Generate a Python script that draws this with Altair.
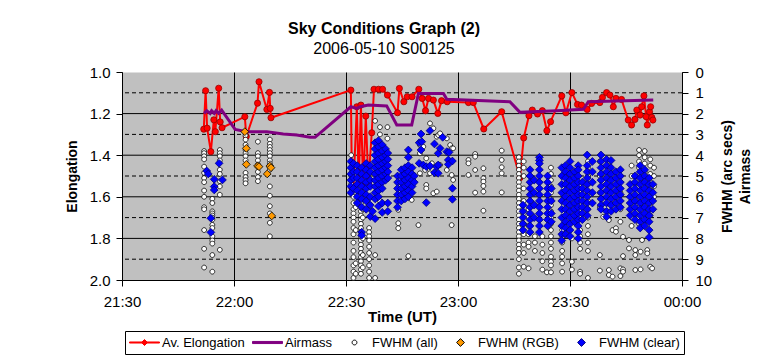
import altair as alt
import pandas as pd

F = "Liberation Sans"
TITLE = "Sky Conditions Graph (2)"
SUBTITLE = "2006-05-10 S00125"
TIME_TICKS = [0, 30, 60, 90, 120, 150]          # minutes after 21:30
TIME_LABELS = ["21:30", "22:00", "22:30", "23:00", "23:30", "00:00"]
ELONG_TICKS = [1.0, 1.2, 1.4, 1.6, 1.8, 2.0]
RIGHT_TICKS = list(range(11))
SOLID_GRID = [1.2, 1.4, 1.6, 1.8]
DASH_GRID = [1.1, 1.3, 1.5, 1.7, 1.9]
SERIES = ["Av. Elongation", "Airmass", "FWHM (all)", "FWHM (RGB)", "FWHM (clear)"]

# Av. Elongation (time in minutes after 21:30, value)
ELONG_T = [21.9, 22.4, 22.8, 23.8, 24.6, 25.0, 25.9, 26.3, 26.8, 32.9, 33.3, 36.3, 36.7, 38.8, 39.5, 39.7, 39.9,
           61.3, 61.6, 62.0, 62.9, 63.4, 64.0, 64.6, 65.3, 66.0, 66.9, 67.5, 68.7, 69.8, 71.1, 73.8, 74.3, 75.5,
           76.4, 77.7, 79.5, 80.4, 81.3, 82.1, 83.4, 84.6, 85.6, 87.1, 92.8, 94.1, 96.9, 101.7, 106.6, 107.6,
           109.0, 109.9, 111.3, 112.6, 113.8, 114.8, 117.8, 118.9, 120.5, 122.0, 123.1, 124.6, 125.8, 128.0,
           128.7, 129.8, 130.7, 131.6, 132.3, 133.8, 135.6, 136.5, 137.4, 137.9, 138.8, 139.2, 139.8, 140.4,
           140.7, 141.3, 141.6, 141.9, 142.2]
ELONG_V = [1.275, 1.09, 1.27, 1.383, 1.23, 1.287, 1.078, 1.24, 1.268, 1.215, 1.31, 1.15, 1.047, 1.18, 1.098, 1.175, 1.22,
           1.087, 1.559, 1.551, 1.167, 1.535, 1.159, 1.551, 1.212, 1.535, 1.292, 1.083, 1.083, 1.083, 1.111, 1.196, 1.079, 1.143,
           1.119, 1.119, 1.083, 1.127, 1.186, 1.127, 1.135, 1.199, 1.138, 1.143, 1.147, 1.147, 1.274, 1.191, 1.508, 1.317,
           1.21, 1.183, 1.202, 1.186, 1.282, 1.239, 1.115, 1.196, 1.099, 1.156, 1.159, 1.18, 1.151, 1.147,
           1.122, 1.099, 1.111, 1.167, 1.127, 1.132, 1.231, 1.255, 1.228, 1.183, 1.207, 1.167, 1.115, 1.215,
           1.255, 1.191, 1.167, 1.218, 1.231]

# Airmass
AIR_T = [22.0, 22.7, 23.6, 24.0, 24.7, 25.2, 25.9, 26.7, 30.3, 33.4, 38.8, 43.2, 46.8, 50.4, 51.7, 61.3, 62.9, 63.8,
         66.0, 70.9, 73.6, 77.6, 79.4, 86.1, 87.0, 103.9, 106.6, 116.4, 123.6, 124.9, 142.3]
AIR_V = [1.99, 1.86, 1.99, 1.86, 1.99, 1.86, 1.99, 1.83, 2.76, 2.87, 2.87, 2.98, 3.03, 3.14, 3.14, 1.67, 1.75, 1.67,
         1.59, 1.63, 2.55, 2.55, 1.03, 1.03, 1.31, 1.43, 1.94, 1.86, 1.79, 1.43, 1.35]

# FWHM (all): (time, [values])
ALL_COLS = [
    (22.0, [3.8, 3.9, 4.05, 4.2, 4.55, 4.85, 5.1, 5.3, 5.7, 6.0, 6.5, 6.6, 7.6, 8.5, 9.4]),
    (24.2, [6.1, 6.3, 6.7, 6.8, 6.9, 7.0, 7.1, 7.35, 7.5, 7.9, 8.1, 8.25, 8.8, 9.6]),
    (26.2, [3.75, 3.9, 4.05, 4.25, 4.7, 4.9, 5.25, 5.5, 5.9, 8.55]),
    (33.1, [3.05, 3.25, 3.5, 3.75, 3.9, 4.05, 4.25, 4.85, 5.05, 5.2, 5.35]),
    (36.4, [3.35, 3.9, 4.05, 4.25, 4.45, 4.8, 5.05, 5.25]),
    (39.6, [3.25, 3.45, 3.6, 3.75, 3.9, 4.05, 4.25, 4.4, 4.7, 5.5, 5.95, 6.45, 6.8, 7.25, 7.9]),
    (61.4, [4.0, 4.3, 4.6, 5.0, 5.4, 5.8]),
    (62.0, [6.0, 6.3, 6.6, 6.8, 7.0, 7.2, 7.5, 7.8, 8.2, 8.6, 8.9, 9.3, 9.6, 9.9]),
    (62.6, [6.5, 7.6, 9.2, 9.7]),
    (64.0, [5.9, 6.1, 6.3, 6.5, 6.7, 6.9, 7.1, 7.3, 7.5, 7.7, 7.9, 8.1, 8.3, 8.5, 8.7, 8.9, 9.1, 9.3, 9.5, 9.7]),
    (64.5, [6.6, 7.0, 8.0, 8.8, 9.4]),
    (66.2, [6.0, 6.4, 7.5, 7.7, 7.9, 8.1, 8.4, 8.7, 9.0, 9.3, 9.6, 9.9]),
    (67.8, [2.35, 8.8, 9.9]),
    (69.1, [2.65, 3.0, 6.2]),
    (71.1, [2.65, 3.2]),
    (74.0, [6.63, 7.27, 7.51]),
    (75.8, [5.6]), (76.7, [8.85]), (77.1, [5.67]), (77.6, [6.15]), (79.4, [7.36]),
    (79.8, [3.51, 3.91, 4.87]), (80.7, [3.59]), (81.2, [4.71]), (81.5, [4.15, 5.43, 5.6]),
    (82.5, [2.47, 4.87]), (83.0, [4.39]), (83.4, [2.71, 5.83]), (84.3, [3.11, 5.75]), (84.7, [3.03]),
    (85.2, [2.95, 4.47]), (87.0, [3.19, 4.71]), (87.9, [3.51]), (88.3, [3.67, 4.95, 7.36]), (88.7, [3.67, 5.19]),
    (92.8, [4.23, 4.39, 4.95]),
    (94.6, [3.94, 4.07, 4.71, 5.8]),
    (96.8, [4.63, 5.11, 5.27, 5.48, 5.75, 6.67]),
    (101.7, [3.78, 4.23, 4.58, 4.87, 5.79]),
    (106.3, [4.1, 4.3, 4.5, 4.7, 4.9, 5.1, 5.3, 5.5, 5.7, 5.9, 6.1, 6.3, 6.5, 6.7, 6.9, 7.1, 7.3, 7.5, 7.7, 7.9,
             8.1, 8.3, 8.5, 8.7, 9.0, 9.4, 9.7]),
    (107.6, [4.3, 4.6, 5.0, 5.6, 6.2, 6.8, 7.3, 7.8, 8.3, 8.7, 9.36]),
    (108.9, [6.6, 7.0, 7.4, 7.8, 8.2, 8.4, 9.44]),
    (110.6, [7.9, 8.2, 8.6]),
    (112.6, [7.9, 8.3, 8.7, 9.1, 9.5]),
    (113.8, [9.63]),
    (114.9, [4.6, 4.9, 5.2, 5.5, 5.8, 6.1, 6.4, 6.7, 7.0, 7.3, 7.6, 7.9, 8.2, 8.5, 8.88, 9.12, 9.3, 9.63]),
    (117.9, [7.6, 7.9, 8.2, 8.6, 8.88, 9.2, 9.6]),
    (120.5, [8.0, 9.12, 9.5]),
    (122.7, [7.6, 7.9, 8.2, 8.5, 9.6, 9.7]),
    (124.8, [4.3, 4.6, 5.0, 5.4, 5.8, 6.2, 6.6, 7.0, 7.4, 7.8, 8.2, 8.6, 9.9]),
    (128.0, [4.3, 5.0, 5.8, 6.5, 8.8, 9.55]),
    (128.9, [6.96]),
    (130.4, [4.5, 5.3, 6.2, 7.12, 9.52, 9.76]),
    (131.4, [7.6, 9.84]),
    (132.3, [7.51, 7.68]),
    (133.5, [5.0, 5.8, 6.6, 7.2, 9.44, 9.81]),
    (134.2, [7.92, 8.85, 9.49, 9.6]),
    (135.8, [8.08, 8.48]),
    (136.5, [4.5, 5.0, 5.5, 6.0, 6.5, 7.0, 7.4]),
    (137.5, [8.56, 8.8, 9.52]),
    (138.5, [3.75, 4.0, 4.3, 4.6, 5.0, 5.5, 6.0, 6.5, 7.0, 7.3]),
    (138.9, [8.64, 9.49]),
    (139.3, [8.08]),
    (140.0, [3.8, 4.1, 4.4, 4.8, 5.2, 5.6, 6.0, 6.4, 6.8, 7.2]),
    (140.7, [8.56, 8.72]),
    (141.5, [4.2, 4.5, 4.9, 5.3, 5.7, 6.1, 6.5, 6.9, 9.36]),
    (142.0, [9.44]),
    (142.5, [4.6, 5.0, 5.5, 6.0]),
]

# FWHM (RGB)
RGB_T = [32.9, 33.3, 33.3, 36.3, 36.7, 38.9, 39.6, 39.9, 40.1]
RGB_V = [2.87, 3.67, 4.44, 4.52, 4.55, 4.9, 4.52, 4.6, 6.92]

# FWHM (clear): (time, [values])
CLEAR_COLS = [
    (22.7, [4.76]), (23.1, [4.9]), (23.8, [7.03, 7.71]), (24.7, [5.16, 5.51, 5.67]), (26.0, [4.39]), (26.9, [5.19]),
    (61.3, [4.3, 4.6, 4.9, 5.2, 5.5, 5.8]), (62.0, [4.4, 4.8, 5.1, 5.6]),
    (63.0, [4.5, 4.8, 5.1, 5.4, 5.7, 6.0, 6.3]), (64.2, [4.6, 4.9, 5.2, 5.5, 5.8, 6.1, 6.5, 7.7, 7.85]),
    (65.4, [4.4, 4.7, 5.0, 5.3, 5.6, 5.9, 6.2, 6.6]), (66.5, [4.5, 4.8, 5.2, 5.5, 6.0, 6.4, 6.95]), (67.1, [6.7]),
    (67.8, [3.4, 3.7, 4.0, 4.3, 4.6, 4.9, 5.2, 5.5, 5.8, 6.1, 7.05]),
    (68.7, [3.3, 3.6, 3.9, 4.2, 4.5, 4.8, 5.1, 5.4, 5.7, 6.0, 6.45]),
    (69.7, [3.5, 3.8, 4.1, 4.4, 4.7, 5.0, 5.3, 5.6, 6.3, 6.75]),
    (70.6, [3.7, 4.0, 4.3, 4.6, 4.9, 5.2]), (71.2, [3.9, 4.2, 4.5, 4.8, 5.1, 6.3, 6.7]),
    (73.8, [5.0, 5.3, 5.6, 5.9, 6.2, 6.5]), (74.8, [4.7, 5.0, 5.3, 5.6, 5.9, 6.2]),
    (75.8, [4.6, 4.9, 5.2, 5.5, 5.8, 6.1]), (76.7, [3.75, 4.1, 4.5, 4.8, 5.1, 5.4, 5.7, 6.0]),
    (77.7, [4.6, 4.9, 5.2, 5.5, 5.8]), (78.3, [5.0, 5.3]),
    (79.6, [3.4, 4.39]), (80.1, [2.98, 3.75]), (80.3, [3.35]), (80.7, [4.47]), (81.5, [4.55, 6.28]),
    (82.5, [2.82, 4.52]), (83.7, [3.46, 4.84]), (84.3, [4.55]), (84.7, [3.91, 4.47, 4.87]), (85.2, [3.67]),
    (85.9, [3.14]), (87.0, [3.83]), (87.4, [4.23, 4.44]), (87.6, [3.86]), (88.5, [4.28, 5.59, 6.12]),
    (107.4, [6.4, 6.7, 7.0, 7.3, 7.6]),
    (109.3, [4.7, 5.0, 5.3, 5.6, 5.9, 6.2, 6.5, 6.8, 7.1, 7.4, 7.7]),
    (110.4, [5.2, 5.8, 6.4, 7.0]),
    (111.8, [4.1, 4.25, 4.4, 4.7, 5.0, 5.3, 5.6, 5.9, 6.2, 6.5, 6.8, 7.1, 7.4, 7.7]),
    (114.0, [5.0, 5.3, 5.6, 5.9, 6.2, 6.5, 6.8, 7.1, 7.4]),
    (115.0, [5.6, 6.2, 6.8, 7.2]),
    (117.8, [4.6, 5.0, 5.4, 5.8, 6.2, 6.6, 7.0, 7.4, 7.8, 8.1]),
    (118.8, [4.5, 4.8, 5.1, 5.4, 5.7, 6.0, 6.3, 6.6, 6.9, 7.2, 7.5, 7.8]),
    (120.0, [4.3, 4.6, 4.9, 5.2, 5.5, 5.8, 6.1, 6.4, 6.7, 7.0, 7.3, 7.6, 7.9]),
    (121.2, [4.8, 5.1, 5.4, 5.7, 6.0, 6.3, 6.6, 6.9, 7.2]),
    (122.2, [4.5, 4.7, 5.0, 5.3, 5.6, 5.9, 6.2, 6.5, 6.8, 7.1, 7.4, 7.7, 8.0]),
    (123.3, [5.3, 5.6, 5.9, 6.2, 6.5, 6.8, 7.1]),
    (124.6, [3.99, 4.5, 4.8, 5.1, 5.4, 5.7, 6.0, 6.3, 6.6, 6.9]),
    (126.0, [4.3, 4.8, 5.3, 5.8, 6.3]),
    (128.3, [3.99, 4.3, 4.6, 4.9, 5.2, 5.5, 5.8, 6.1, 6.4, 6.6]),
    (129.8, [4.2, 4.5, 4.8, 5.1, 5.4, 5.7, 6.0, 6.3, 6.7, 6.96]),
    (131.0, [4.25, 4.6, 4.9, 5.2, 5.5, 5.8, 6.1, 6.4, 6.7]),
    (132.3, [4.8, 5.1, 5.4, 5.7, 6.0, 6.3, 6.6]),
    (133.5, [4.7, 5.0, 5.3, 5.6, 5.9, 6.2, 6.5]),
    (136.1, [5.4, 5.7, 6.0, 6.3, 6.6, 6.9]),
    (137.4, [5.0, 5.3, 5.6, 5.9, 6.2, 6.5, 6.8, 7.1]),
    (138.8, [4.5, 4.8, 5.1, 5.4, 5.7, 6.0, 6.3, 6.6, 6.9, 7.2, 7.5]),
    (140.0, [4.7, 5.0, 5.3, 5.6, 5.9, 6.2, 6.5, 6.8, 7.1, 7.4]),
    (141.2, [5.1, 5.4, 5.7, 6.0, 6.3, 6.6, 6.9, 7.2, 7.6, 7.95]),
    (142.2, [5.4, 5.8, 6.2, 6.6]),
]

# ---- styling ----
FILLS = ["#ff0000", "#800080", "#ffffff", "#ff9900", "#0000ff"]
STROKES = ["#ff0000", "#800080", "#000000", "#000000", "#000080"]
SHAPES = [
    "M-1,-0.035H1V0.035H-1Z M0,-0.2L0.2,0L0,0.2L-0.2,0Z",
    "M-1,-0.07H1V0.07H-1Z",
    "M-0.16,0A0.16,0.16,0,1,0,0.16,0A0.16,0.16,0,1,0,-0.16,0Z",
    "M0,-0.26L0.26,0L0,0.26L-0.26,0Z",
    "M0,-0.26L0.26,0L0,0.26L-0.26,0Z",
]

elong_df = pd.DataFrame({"t": ELONG_T, "y": ELONG_V})
air_df = pd.DataFrame({"t": AIR_T, "y": AIR_V})
rows = []
for t, vals in ALL_COLS:
    rows += [(t, v, SERIES[2]) for v in vals]
rows += [(t, v, SERIES[3]) for t, v in zip(RGB_T, RGB_V)]
for t, vals in CLEAR_COLS:
    rows += [(t, v, SERIES[4]) for v in vals]
pts_df = pd.DataFrame(rows, columns=["t", "y", "series"])
solid_df = pd.DataFrame({"y": SOLID_GRID})
dash_df = pd.DataFrame({"y": DASH_GRID})

label_expr = "[" + ",".join("'%s'" % s for s in TIME_LABELS) + "][round(datum.value/30)]"
xaxis = alt.Axis(values=TIME_TICKS, labelExpr=label_expr, title="Time (UT)", grid=True, gridColor="black",
                 gridOpacity=1, gridWidth=1, domainColor="black", tickColor="black", tickSize=6,
                 labelFont=F, labelFontSize=15, labelColor="black", labelPadding=8, labelFlush=False,
                 titleFont=F, titleFontSize=15, titleFontWeight="bold", titleColor="black", titlePadding=0)
X = alt.X("t:Q", scale=alt.Scale(domain=[0, 150], nice=False, zero=False), axis=xaxis)

laxis = alt.Axis(orient="left", values=ELONG_TICKS, format=".1f", grid=False, title="Elongation",
                 domainColor="black", tickColor="black", tickSize=6, labelFont=F, labelFontSize=15,
                 labelColor="black", labelPadding=6, labelFlush=False, titleFont=F, titleFontSize=14,
                 titleFontWeight="bold", titleColor="black", titlePadding=10)
YL = alt.Y("y:Q", scale=alt.Scale(domain=[1, 2], reverse=True, nice=False, zero=False), axis=laxis)

raxis = alt.Axis(orient="right", values=RIGHT_TICKS, format="d", grid=False, title=["FWHM (arc secs)", "Airmass"],
                 titleAngle=270, titleBaseline="top", titleAlign="center", titleLineHeight=18,
                 titleX=38, titleY=104,
                 domainColor="black", tickColor="black", tickSize=6, labelFont=F, labelFontSize=15,
                 labelColor="black", labelPadding=7, labelFlush=False, titleFont=F, titleFontSize=14,
                 titleFontWeight="bold", titleColor="black")
YR = alt.Y("y:Q", scale=alt.Scale(domain=[0, 10], reverse=True, nice=False, zero=False), axis=raxis)

solid = alt.Chart(solid_df).mark_rule(color="black", strokeWidth=1).encode(y=YL)
dashed = alt.Chart(dash_df).mark_rule(color="black", strokeWidth=1, strokeDash=[4, 3]).encode(y=YL)
eline = alt.Chart(elong_df).mark_line(color="#ff0000", strokeWidth=2).encode(x=X, y=YL)
epts = alt.Chart(elong_df).mark_point(filled=True, shape="circle", size=38, fill="#ff0000", stroke="#990000",
                                      strokeWidth=0.8, opacity=1).encode(x=X, y=YL)
left = alt.layer(solid, dashed, eline, epts)

aline = alt.Chart(air_df).mark_line(color="#800080", strokeWidth=3).encode(x=X, y=YR)
legend = alt.Legend(orient="none", legendX=3, legendY=259, direction="horizontal", columns=5, title=None,
                    labelFont=F, labelFontSize=13, labelColor="black", labelOffset=2, labelLimit=300,
                    symbolSize=900, symbolStrokeWidth=1, symbolOpacity=1, clipHeight=15,
                    columnPadding=7, padding=4, strokeColor="black", fillColor="white")
pts = alt.Chart(pts_df).mark_point(filled=True, size=900, opacity=1, strokeWidth=0.8).encode(
    x=X, y=YR,
    fill=alt.Fill("series:N", scale=alt.Scale(domain=SERIES, range=FILLS), legend=legend),
    stroke=alt.Stroke("series:N", scale=alt.Scale(domain=SERIES, range=STROKES)),
    shape=alt.Shape("series:N", scale=alt.Scale(domain=SERIES, range=SHAPES)),
)
right = alt.layer(aline, pts)

chart = alt.layer(left, right).resolve_scale(y="independent").properties(
    width=560, height=208,
    autosize=alt.AutoSizeParams(type="none"),
    padding={"left": 114, "top": 64, "right": 70, "bottom": 76},
    background="white",
    title=alt.TitleParams(text=TITLE, subtitle=SUBTITLE, font=F, fontSize=16, fontWeight="bold", color="black",
                          subtitleFont=F, subtitleFontSize=16, subtitleColor="black", anchor="middle",
                          dx=-18, offset=8, subtitlePadding=4),
).configure_view(fill="#c0c0c0", stroke="transparent")

chart.save("out.html", embed_options={"renderer": "svg", "actions": False})
